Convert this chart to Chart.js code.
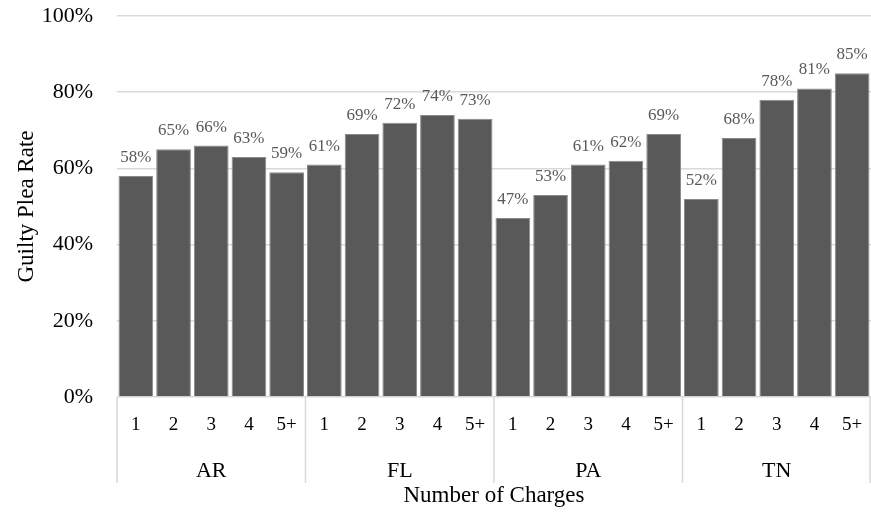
<!DOCTYPE html>
<html>
<head>
<meta charset="utf-8">
<script src="https://cdn.jsdelivr.net/npm/chart.js@4.4.1/dist/chart.umd.min.js"></script>
<style>
  body { margin: 0; background: #fff; }
</style>
</head>
<body>
<canvas id="myChart" width="871" height="513"></canvas>
<script>
// data
const states = ['AR', 'FL', 'PA', 'TN'];
const charges = ['1', '2', '3', '4', '5+'];
const arRates = [58, 65, 66, 63, 59];
const flRates = [61, 69, 72, 74, 73];
const paRates = [47, 53, 61, 62, 69];
const tnRates = [52, 68, 78, 81, 85];
const yTicks = [0, 20, 40, 60, 80, 100];

const serif = '"Liberation Serif", "Times New Roman", serif';

// draws the % labels over each bar
const barLabels = {
  id: 'barLabels',
  afterDatasetsDraw(chart) {
    const ctx = chart.ctx;
    const meta = chart.getDatasetMeta(0);
    ctx.save();
    ctx.font = '17px ' + serif;
    ctx.fillStyle = '#595959';
    ctx.textAlign = 'center';
    ctx.textBaseline = 'alphabetic';
    meta.data.forEach((bar, i) => {
      const v = chart.data.datasets[0].data[i];
      ctx.fillText(v + '%', bar.x, bar.y - 14);
    });
    ctx.restore();
  }
};

// second row of the x axis: state names + separators
const groupAxis = {
  id: 'groupAxis',
  afterDraw(chart) {
    const ctx = chart.ctx;
    const x = chart.scales.x;
    const top = chart.chartArea.bottom;
    const n = charges.length;
    const step = x.getPixelForValue(1) - x.getPixelForValue(0);
    ctx.save();
    ctx.strokeStyle = '#d9d9d9';
    ctx.lineWidth = 1.5;
    for (let g = 0; g <= states.length; g++) {
      const px = Math.min(x.getPixelForValue(g * n) - step / 2, chart.width - 1);
      ctx.beginPath();
      ctx.moveTo(px, top);
      ctx.lineTo(px, top + 86);
      ctx.stroke();
    }
    ctx.font = '22px ' + serif;
    ctx.fillStyle = '#000';
    ctx.textAlign = 'center';
    ctx.textBaseline = 'middle';
    states.forEach((s, g) => {
      const cx = (x.getPixelForValue(g * n) + x.getPixelForValue(g * n + n - 1)) / 2;
      ctx.fillText(s, cx, top + 74);
    });
    ctx.restore();
  }
};

const data = {
  labels: states.flatMap(() => charges),
  datasets: [{
    label: 'Guilty Plea Rate',
    data: [...arRates, ...flRates, ...paRates, ...tnRates],
    backgroundColor: '#595959',
    borderColor: '#8a8a8a',
    borderWidth: 1,
    barPercentage: 0.92,
    categoryPercentage: 1
  }]
};

const config = {
  type: 'bar',
  data,
  options: {
    responsive: false,
    animation: false,
    layout: { padding: { top: 16, right: 0, left: 0, bottom: 0 } },
    plugins: {
      legend: { display: false },
      tooltip: { enabled: false }
    },
    scales: {
      x: {
        afterFit: (scale) => {
          scale.height = 116;
          scale.paddingLeft = 0;
          scale.paddingRight = 0;
        },
        grid: { display: false, drawTicks: false },
        border: { display: false },
        ticks: {
          color: '#000',
          padding: 17,
          maxRotation: 0,
          autoSkip: false,
          font: { family: serif, size: 19 }
        },
        title: {
          display: true,
          text: 'Number of Charges',
          color: '#000',
          font: { family: serif, size: 23 },
          padding: { top: 0, bottom: 3 }
        }
      },
      y: {
        min: 0,
        max: 100,
        afterFit: (scale) => {
          scale.width = 117;
          scale.paddingTop = 0;
          scale.paddingBottom = 0;
        },
        afterBuildTicks: (scale) => { scale.ticks = yTicks.map(v => ({ value: v })); },
        grid: { color: '#d9d9d9', lineWidth: 1.5, drawTicks: false },
        border: { display: false },
        ticks: {
          color: '#000',
          padding: 24,
          font: { family: serif, size: 22 },
          callback: (v) => v + '%'
        },
        title: {
          display: true,
          text: 'Guilty Plea Rate',
          color: '#000',
          font: { family: serif, size: 23 },
          padding: { top: 13, bottom: 0 }
        }
      }
    }
  },
  plugins: [barLabels, groupAxis]
};

const myChart = new Chart(document.getElementById('myChart'), config);
</script>
</body>
</html>
